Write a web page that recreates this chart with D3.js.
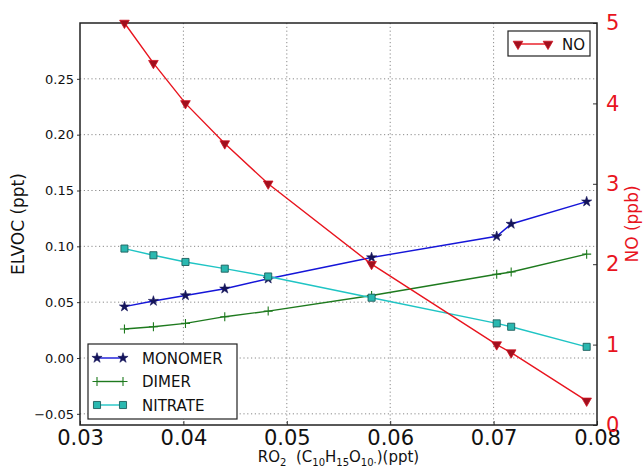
<!DOCTYPE html>
<html>
<head>
<meta charset="utf-8">
<script src="https://cdn.jsdelivr.net/npm/d3@7"></script>
<style>
  body { margin: 0; background: white; }
  svg { display: block; font-family: 'DejaVu Sans', sans-serif; }
</style>
</head>
<body>
<div id="chart"></div>
<script>
// data
let ro2 = [0.0343, 0.0371, 0.0402, 0.0440, 0.0482, 0.0582, 0.0703, 0.0717, 0.0790]
let monomer = [0.046, 0.051, 0.056, 0.062, 0.071, 0.090, 0.109, 0.120, 0.140]
let dimer = [0.026, 0.028, 0.031, 0.037, 0.042, 0.056, 0.075, 0.077, 0.093]
let nitrate = [0.098, 0.092, 0.086, 0.080, 0.073, 0.054, 0.031, 0.028, 0.010]
let no = [5.0, 4.5, 4.0, 3.5, 3.0, 2.0, 1.0, 0.9, 0.3]

let xTicks = [0.03, 0.04, 0.05, 0.06, 0.07, 0.08]
let leftTicks = [-0.05, 0.00, 0.05, 0.10, 0.15, 0.20, 0.25]
let rightTicks = [0, 1, 2, 3, 4, 5]

let width = 643
let height = 473
let margin = {left: 80, right: 46, top: 23, bottom: 48}

let svg = d3.select('#chart').append('svg')
    .attr('width', width)
    .attr('height', height)

let x = d3.scaleLinear()
    .domain([0.03, 0.08])
    .range([margin.left, width - margin.right])
let y = d3.scaleLinear()
    .domain([-0.06, 0.30])
    .range([height - margin.bottom, margin.top])
let y2 = d3.scaleLinear()
    .domain([0, 5])
    .range([height - margin.bottom, margin.top])

let gridColor = '#8a8a8a'

// grid
svg.append('g')
    .selectAll('line')
    .data(xTicks.slice(1, -1))
    .join('line')
    .attr('x1', d => x(d)).attr('x2', d => x(d))
    .attr('y1', margin.top).attr('y2', height - margin.bottom)
    .attr('stroke', gridColor)
    .attr('stroke-width', 1)
    .attr('stroke-dasharray', '1.2,2.6')
svg.append('g')
    .selectAll('line')
    .data(leftTicks)
    .join('line')
    .attr('x1', margin.left).attr('x2', width - margin.right)
    .attr('y1', d => y(d)).attr('y2', d => y(d))
    .attr('stroke', gridColor)
    .attr('stroke-width', 1)
    .attr('stroke-dasharray', '1.2,2.6')

// axes
let xAxis = svg.append('g')
    .attr('transform', `translate(0,${height - margin.bottom})`)
    .call(d3.axisBottom(x).tickValues(xTicks).tickFormat(d3.format('.2f')).tickSizeInner(-4).tickSizeOuter(0).tickPadding(5))
xAxis.select('.domain').remove()
xAxis.selectAll('text').attr('font-size', 21).attr('fill', '#111').attr('font-family', 'DejaVu Sans')
xAxis.selectAll('line').attr('stroke', '#333')

let yAxis = svg.append('g')
    .attr('transform', `translate(${margin.left},0)`)
    .call(d3.axisLeft(y).tickValues(leftTicks).tickFormat(d3.format('.2f')).tickSizeInner(3).tickSizeOuter(0).tickPadding(3))
yAxis.select('.domain').remove()
yAxis.selectAll('text').attr('font-size', 13).attr('fill', '#111').attr('font-family', 'DejaVu Sans')
    .text(d => d < 0 ? '\u22120.05' : d3.format('.2f')(d))
yAxis.selectAll('line').attr('stroke', '#333')

let y2Axis = svg.append('g')
    .attr('transform', `translate(${width - margin.right},0)`)
    .call(d3.axisRight(y2).tickValues(rightTicks).tickFormat(d3.format('d')).tickSizeInner(-4).tickSizeOuter(0).tickPadding(9))
y2Axis.select('.domain').remove()
y2Axis.selectAll('text').attr('font-size', 21).attr('fill', '#e8141e').attr('font-family', 'DejaVu Sans')
y2Axis.selectAll('line').attr('stroke', '#333')

// frame
svg.append('rect')
    .attr('x', margin.left).attr('y', margin.top)
    .attr('width', width - margin.left - margin.right)
    .attr('height', height - margin.top - margin.bottom)
    .attr('fill', 'none')
    .attr('stroke', '#222')
    .attr('stroke-width', 1.5)

// axis labels
svg.append('text')
    .attr('transform', `translate(24,${(margin.top + height - margin.bottom) / 2}) rotate(-90)`)
    .attr('text-anchor', 'middle')
    .attr('font-size', 17)
    .attr('fill', '#111')
    .text('ELVOC (ppt)')

svg.append('text')
    .attr('transform', `translate(638,${(margin.top + height - margin.bottom) / 2}) rotate(-90)`)
    .attr('text-anchor', 'middle')
    .attr('font-size', 17)
    .attr('fill', '#e8141e')
    .text('NO (ppb)')

let xLabel = svg.append('text')
    .attr('x', (margin.left + width - margin.right) / 2)
    .attr('y', 462)
    .attr('text-anchor', 'middle')
    .attr('font-size', 15)
    .attr('fill', '#111')
let parts = [['RO', 0], ['2', 1], ['\u00a0\u00a0(C', 0], ['10', 1], ['H', 0], ['15', 1], ['O', 0], ['10\u00b7', 1], [')(ppt)', 0]]
let lastSub = false
parts.forEach(p => {
    let dy = p[1] ? 4 : (lastSub ? -4 : 0)
    xLabel.append('tspan')
        .attr('font-size', p[1] ? 10 : 15)
        .attr('dy', dy)
        .text(p[0])
    lastSub = !!p[1]
})

// markers
let star = d3.symbol().type(d3.symbolStar).size(32)
let square = d3.symbol().type(d3.symbolSquare).size(50)
let tri = d3.symbol().type(d3.symbolTriangle).size(40)

function drawMarker(g, kind, cx, cy) {
    if (kind == 'star') {
        g.append('path').attr('d', star()).attr('transform', `translate(${cx},${cy})`)
            .attr('fill', '#14145a').attr('stroke', '#14145a').attr('stroke-width', 0.6)
    } else if (kind == 'plus') {
        g.append('path').attr('d', `M${cx - 4.5},${cy}H${cx + 4.5}M${cx},${cy - 4.5}V${cy + 4.5}`)
            .attr('stroke', '#1e7a1e').attr('stroke-width', 1.1)
    } else if (kind == 'square') {
        g.append('path').attr('d', square()).attr('transform', `translate(${cx},${cy})`)
            .attr('fill', '#2ab8b0').attr('stroke', '#1d5f5c').attr('stroke-width', 0.9)
    } else {
        g.append('path').attr('d', tri()).attr('transform', `translate(${cx},${cy}) rotate(180)`)
            .attr('fill', '#a0101e').attr('stroke', '#d01020').attr('stroke-width', 0.8)
    }
}

let series = [
    {name: 'MONOMER', values: monomer, scale: y, color: '#1515d8', marker: 'star'},
    {name: 'DIMER', values: dimer, scale: y, color: '#1e7a1e', marker: 'plus'},
    {name: 'NITRATE', values: nitrate, scale: y, color: '#1fc4c4', marker: 'square'},
    {name: 'NO', values: no, scale: y2, color: '#e8141e', marker: 'tri'}
]

let plot = svg.append('g')
series.forEach(s => {
    let line = d3.line()
        .x((d, i) => x(ro2[i]))
        .y(d => s.scale(d))
    let g = plot.append('g')
    g.append('path')
        .datum(s.values)
        .attr('d', line)
        .attr('fill', 'none')
        .attr('stroke', s.color)
        .attr('stroke-width', 1.4)
    s.values.forEach((d, i) => drawMarker(g, s.marker, x(ro2[i]), s.scale(d)))
})

// legends
let leg = svg.append('g')
leg.append('rect')
    .attr('x', 88).attr('y', 344).attr('width', 149).attr('height', 75)
    .attr('fill', 'white').attr('stroke', '#222').attr('stroke-width', 1.2)
series.slice(0, 3).forEach((s, i) => {
    let ly = 358 + i * 23.5
    leg.append('line')
        .attr('x1', 97).attr('x2', 123).attr('y1', ly).attr('y2', ly)
        .attr('stroke', s.color).attr('stroke-width', 1.4)
    drawMarker(leg, s.marker, 97, ly)
    drawMarker(leg, s.marker, 123, ly)
    leg.append('text')
        .attr('x', 142).attr('y', ly + 5.5)
        .attr('font-size', 15).attr('fill', '#111')
        .text(s.name)
})

let leg2 = svg.append('g')
leg2.append('rect')
    .attr('x', 508).attr('y', 31).attr('width', 82).attr('height', 25)
    .attr('fill', 'white').attr('stroke', '#222').attr('stroke-width', 1.2)
leg2.append('line')
    .attr('x1', 518).attr('x2', 548).attr('y1', 44).attr('y2', 44)
    .attr('stroke', series[3].color).attr('stroke-width', 1.4)
drawMarker(leg2, 'tri', 518, 44)
drawMarker(leg2, 'tri', 548, 44)
leg2.append('text')
    .attr('x', 562).attr('y', 49.5)
    .attr('font-size', 15).attr('fill', '#111')
    .text('NO')
</script>
</body>
</html>
